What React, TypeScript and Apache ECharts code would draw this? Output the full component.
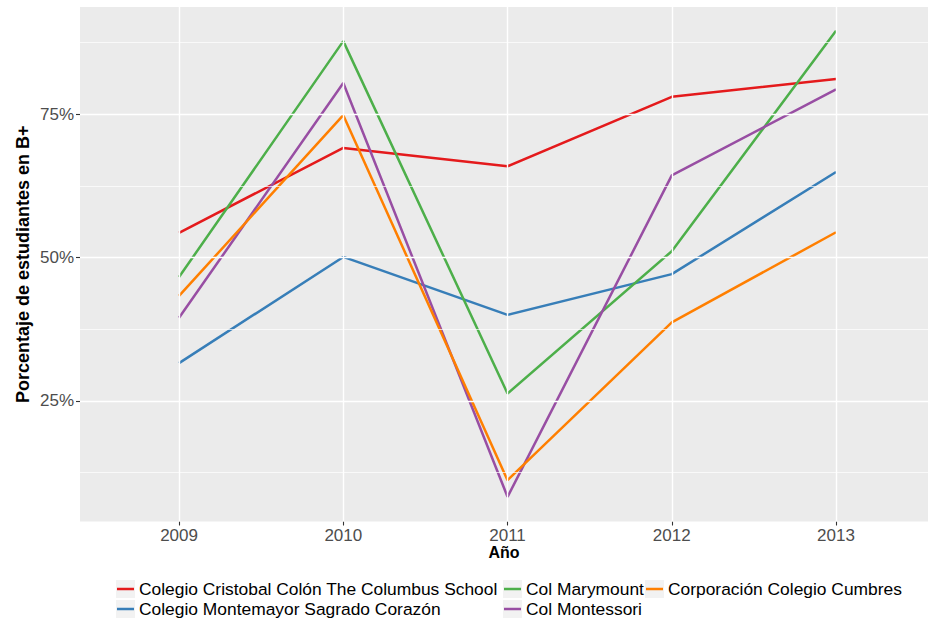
import React, { useEffect, useRef } from "react";
import * as echarts from "echarts";

const years = [2009, 2010, 2011, 2012, 2013];
const seriesNames = [
  "Colegio Cristobal Colón The Columbus School",
  "Colegio Montemayor Sagrado Corazón",
  "Col Marymount",
  "Col Montessori",
  "Corporación Colegio Cumbres",
];
const seriesColors = ["#E41A1C", "#377EB8", "#4DAF4A", "#984EA3", "#FF7F00"];
const cristobal = [54.3, 69.1, 65.9, 78.0, 81.1];
const montemayor = [31.6, 50.1, 40.0, 47.1, 64.9];
const marymount = [46.6, 87.7, 26.3, 51.1, 89.5];
const montessori = [39.5, 80.4, 8.3, 64.3, 79.3];
const cumbres = [43.3, 74.8, 11.2, 38.7, 54.4];
const seriesValues = [cristobal, montemayor, marymount, montessori, cumbres];
const yTickValues = [25, 50, 75];
const yMinorValues = [12.5, 37.5, 62.5, 87.5];

const FONT = "'Liberation Sans', Arial, sans-serif";

export default function App() {
  const ref = useRef<HTMLDivElement>(null);
  useEffect(() => {
    if (!ref.current) return;
    const chart = echarts.init(ref.current, null, { renderer: "svg" });

    const gridLines: any[] = [];
    yMinorValues.forEach((v) =>
      gridLines.push({ yAxis: v, lineStyle: { color: "#FFFFFF", width: 0.7, type: "solid" } })
    );
    yTickValues.forEach((v) =>
      gridLines.push({ yAxis: v, lineStyle: { color: "#FFFFFF", width: 1.4, type: "solid" } })
    );
    years.forEach((v) =>
      gridLines.push({ xAxis: v, lineStyle: { color: "#FFFFFF", width: 1.4, type: "solid" } })
    );

    // legend layout: column left positions and row index per series
    const legendPos = [
      { left: 117, row: 0 },
      { left: 117, row: 1 },
      { left: 504, row: 0 },
      { left: 504, row: 1 },
      { left: 646, row: 0 },
    ];

    const keyBoxes: any[] = legendPos.map((p) => ({
      type: "rect",
      shape: { x: p.left - 1, y: 580 + p.row * 20, width: 19, height: 18 },
      style: { fill: "#F2F2F2" },
      z: -1,
      silent: true,
    }));

    chart.setOption({
      animation: false,
      textStyle: { fontFamily: FONT },
      grid: {
        left: 80,
        top: 7,
        right: 0,
        bottom: 96.5,
        show: true,
        backgroundColor: "#EBEBEB",
        borderWidth: 0,
        containLabel: false,
      },
      graphic: keyBoxes,
      legend: seriesNames.map((name, i) => ({
        data: [name],
        orient: "horizontal",
        left: legendPos[i].left,
        top: 579 + legendPos[i].row * 20,
        padding: 0,
        itemGap: 0,
        itemWidth: 17,
        itemHeight: 2.5,
        icon: "rect",
        selectedMode: false,
        textStyle: { fontSize: 17.4, color: "#000000", fontFamily: FONT, lineHeight: 20 },
      })),
      xAxis: {
        type: "value",
        min: 2008.397,
        max: 2013.56,
        name: "Año",
        nameLocation: "middle",
        nameMoveOverlap: false,
        nameGap: 23,
        nameTextStyle: { fontSize: 16, fontWeight: "bold", color: "#000000", fontFamily: FONT, lineHeight: 16 },
        axisLine: { show: false },
        splitLine: { show: false },
        axisTick: { show: true, customValues: years, length: 4, lineStyle: { color: "#333333", width: 1.1 } },
        axisLabel: {
          customValues: years,
          formatter: (v: number) => String(v),
          fontSize: 17,
          lineHeight: 17,
          color: "#4D4D4D",
          margin: 5,
          fontFamily: FONT,
        },
      },
      yAxis: {
        type: "value",
        min: 4.0,
        max: 93.65,
        name: "Porcentaje de estudiantes en B+",
        nameLocation: "middle",
        nameMoveOverlap: false,
        nameRotate: 90,
        nameGap: 48,
        nameTextStyle: { fontSize: 18, fontWeight: "bold", color: "#000000", fontFamily: FONT },
        axisLine: { show: false },
        splitLine: { show: false },
        axisTick: { show: true, customValues: yTickValues, length: 4, lineStyle: { color: "#333333", width: 1.1 } },
        axisLabel: {
          customValues: yTickValues,
          formatter: (v: number) => v + "%",
          fontSize: 17,
          color: "#4D4D4D",
          margin: 6,
          fontFamily: FONT,
        },
      },
      series: [
        {
          name: "__grid",
          type: "line",
          data: [],
          z: 1,
          silent: true,
          markLine: {
            silent: true,
            symbol: ["none", "none"],
            label: { show: false },
            emphasis: { disabled: true },
            animation: false,
            data: gridLines,
          },
        },
        ...seriesNames.map((name, i) => ({
          name,
          type: "line",
          z: 3,
          symbol: "none",
          showSymbol: false,
          color: seriesColors[i],
          lineStyle: { color: seriesColors[i], width: 2.5 },
          emphasis: { disabled: true },
          data: years.map((y, j) => [y, seriesValues[i][j]]),
        })),
      ],
    });
    return () => chart.dispose();
  }, []);
  return (
    <div
      ref={ref}
      style={{ position: "absolute", left: 0, top: 0, width: 928, height: 618 }}
    />
  );
}
